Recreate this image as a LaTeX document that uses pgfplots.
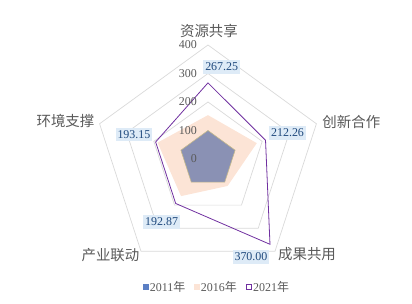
\documentclass[border=0pt]{standalone}
\usepackage{pgfplots}
\usepackage{pgfplotstable}
\pgfplotsset{compat=1.18}
\usepgfplotslibrary{polar}
\usepackage{fontspec}
\setmainfont{Liberation Serif}
\newfontfamily\cjk{Noto Sans CJK SC}
\definecolor{gridc}{RGB}{217,217,217}
\definecolor{txtc}{RGB}{89,89,89}
\definecolor{cA}{RGB}{138,145,180}
\definecolor{cAb}{RGB}{196,185,140}
\definecolor{cAleg}{RGB}{91,127,196}
\definecolor{cB}{RGB}{252,228,214}
\definecolor{cC}{RGB}{112,48,160}
\definecolor{labfill}{RGB}{222,235,247}
\definecolor{labtxt}{RGB}{31,73,125}

\pgfplotstableread{
a r
90 100
18 100
-54 100
-126 100
162 100
}\dataA
\pgfplotstableread{
a r
90 154
18 180
-54 117
-126 161
162 186
}\dataB
\pgfplotstableread{
a r lab dx dy
90 267.25 267.25 13.7 16
18 212.26 212.26 22 7
-54 370.00 370.00 -19 -12.4
-126 192.87 192.87 -14 -18.4
162 193.15 193.15 -21.7 7.4
}\dataC
\pgfplotstableread{
a r lab dx dy
90 400 {\cjk 资源共享} 1 14
18 400 {\cjk 创新合作} 34.9 1.3
-54 400 {\cjk 成果共用} 32 -3.3
-126 400 {\cjk 产业联动} -30.5 -3.8
162 400 {\cjk 环境支撑} -34.1 2.3
}\cats
\pgfplotstableread{
a r lab
90 0 0
90 100 100
90 200 200
90 300 300
90 400 400
}\ticks

\begin{document}
\begin{tikzpicture}
\begin{axis}[
  scale only axis, width=412bp, height=304bp,
  xmin=-729.8, xmax=715.8, ymin=-508.8, ymax=557.9,
  hide axis, clip=false, data cs=polar,
  legend style={draw=none, fill=none, at={(rel axis cs:0.527,0.056)}, anchor=center,
    legend columns=3, font=\fontsize{12}{14}\selectfont, text=txtc,
    inner sep=0pt, /tikz/every even column/.append style={column sep=7bp},
    /tikz/every odd column/.append style={column sep=-1bp}},
]
% grid rings
\addplot[gridc, line width=0.7bp, forget plot] coordinates {(90,100)(18,100)(-54,100)(-126,100)(162,100)} -- cycle;
\addplot[gridc, line width=0.7bp, forget plot] coordinates {(90,200)(18,200)(-54,200)(-126,200)(162,200)} -- cycle;
\addplot[gridc, line width=0.7bp, forget plot] coordinates {(90,300)(18,300)(-54,300)(-126,300)(162,300)} -- cycle;
\addplot[gridc, line width=0.7bp, forget plot] coordinates {(90,400)(18,400)(-54,400)(-126,400)(162,400)} -- cycle;
% tick labels
\addplot[draw=none, forget plot, nodes near coords, point meta=explicit symbolic,
  every node near coord/.style={anchor=east, xshift=-11bp, text=txtc, font=\fontsize{12}{14}\selectfont, inner sep=0pt}]
  table[x=a, y=r, meta=lab]{\ticks};
% series
\addplot[fill=cB, draw=none, forget plot]
  table[x=a, y=r]{\dataB} -- cycle;
\addplot[fill=cA, draw=cAb, line width=0.6bp, forget plot]
  table[x=a, y=r]{\dataA} -- cycle;
\addplot[draw=cC, line width=0.8bp, no marks, forget plot]
  table[x=a, y=r]{\dataC} -- cycle;
% data labels 2021
\addplot[draw=none, forget plot, nodes near coords, point meta=explicit symbolic,
  visualization depends on={\thisrow{dx} \as \ldx},
  visualization depends on={\thisrow{dy} \as \ldy},
  every node near coord/.style={anchor=center, xshift=\ldx bp, yshift=\ldy bp,
    fill=labfill, text=labtxt, font=\fontsize{12}{14}\selectfont,
    inner xsep=2bp, inner ysep=2bp, text height=8.5bp, text depth=1.2bp}]
  table[x=a, y=r, meta=lab]{\dataC};
% category labels
\addplot[draw=none, forget plot, nodes near coords, point meta=explicit symbolic,
  visualization depends on={\thisrow{dx} \as \cdx},
  visualization depends on={\thisrow{dy} \as \cdy},
  every node near coord/.style={anchor=center, xshift=\cdx bp, yshift=\cdy bp,
    text=txtc, font=\fontsize{14.5}{16}\selectfont, inner sep=0pt}]
  table[x=a, y=r, meta=lab]{\cats};
\addlegendimage{legend image code/.code={\fill[cAleg] (0bp,-2.6bp) rectangle (5.2bp,2.6bp);}}
\addlegendentry{2011{\cjk 年}}
\addlegendimage{legend image code/.code={\fill[cB] (0bp,-2.6bp) rectangle (5.2bp,2.6bp);}}
\addlegendentry{2016{\cjk 年}}
\addlegendimage{legend image code/.code={\draw[cC, line width=0.8bp] (0.4bp,-2.6bp) rectangle (6bp,2.6bp);}}
\addlegendentry{2021{\cjk 年}}
\path (rel axis cs:0,0) rectangle (rel axis cs:1,1);
\end{axis}
\end{tikzpicture}
\end{document}
